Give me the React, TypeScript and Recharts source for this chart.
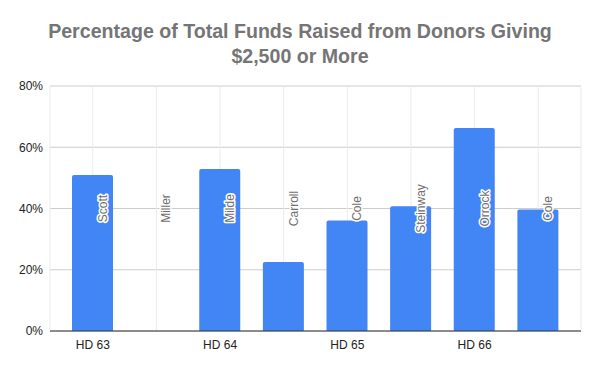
import React from 'react'
import { BarChart, Bar, XAxis, YAxis, CartesianGrid } from 'recharts'

const districts = ['HD 63', '', 'HD 64', '', 'HD 65', '', 'HD 66', '']
const candidates = ['Scott', 'Miller', 'Milde', 'Carroll', 'Cole', 'Steinway', 'Orrock', 'Cole']
const shares = [0.509, 0, 0.529, 0.225, 0.361, 0.407, 0.663, 0.397]
const yTicks = [0, 0.2, 0.4, 0.6, 0.8]

const W = 600
const H = 371
const MARGIN = { top: 86, right: 19, bottom: 10, left: 0 }
const X_AXIS_H = 30
const PLOT_H = H - MARGIN.top - MARGIN.bottom - X_AXIS_H
const FONT = "'Liberation Sans', Arial, sans-serif"

const data = districts.map((d, i) => ({
  key: i,
  district: d,
  name: candidates[i],
  share: shares[i],
}))

// district tick + the candidate annotation, which the sheet centres on the value axis
const CategoryTick = (props: any) => {
  const { x, y, payload } = props
  const i = payload.value as number
  const ax = x + 14
  const cy = MARGIN.top + PLOT_H / 2
  return (
    <g>
      <text x={x} y={y} dy={9} textAnchor="middle" fontSize={12} fontFamily={FONT} fill="#222">
        {districts[i]}
      </text>
      <text
        x={ax}
        y={cy}
        transform={`rotate(-90 ${ax} ${cy})`}
        textAnchor="middle"
        fontSize={12}
        fontFamily={FONT}
        fill="#6e6e6e"
        stroke="#fff"
        strokeWidth={3}
        strokeLinejoin="round"
        paintOrder="stroke"
      >
        {candidates[i]}
      </text>
    </g>
  )
}

export default function App() {
  return (
    <div style={{ position: 'absolute', left: 0, top: 0, width: W, height: H, background: '#fff', fontFamily: FONT }}>
      <BarChart width={W} height={H} data={data} margin={MARGIN} barSize={41}>
        <CartesianGrid vertical={false} stroke="#cccccc" />
        <CartesianGrid horizontal={false} stroke="#ebebeb" />
        <YAxis
          width={50}
          domain={[0, 0.8]}
          ticks={yTicks}
          tickFormatter={(v: number) => `${Math.round(v * 100)}%`}
          axisLine={false}
          tickLine={false}
          tickSize={0}
          tickMargin={7}
          tick={{ fontSize: 12, fill: '#222' }}
        />
        <Bar dataKey="share" fill="#4285f4" radius={[2, 2, 0, 0]} isAnimationActive={false} />
        <XAxis
          dataKey="key"
          interval={0}
          height={X_AXIS_H}
          padding={{ left: 11, right: 11 }}
          tickLine={false}
          axisLine={{ stroke: '#333' }}
          tick={<CategoryTick />}
          tickMargin={3}
        />
      </BarChart>
      <div
        style={{
          position: 'absolute', top: 19, left: 0, width: W, textAlign: 'center',
          fontSize: 19.6, fontWeight: 'bold', color: '#757575', lineHeight: '25px',
        }}
      >
        Percentage of Total Funds Raised from Donors Giving
        <br />
        $2,500 or More
      </div>
    </div>
  )
}
